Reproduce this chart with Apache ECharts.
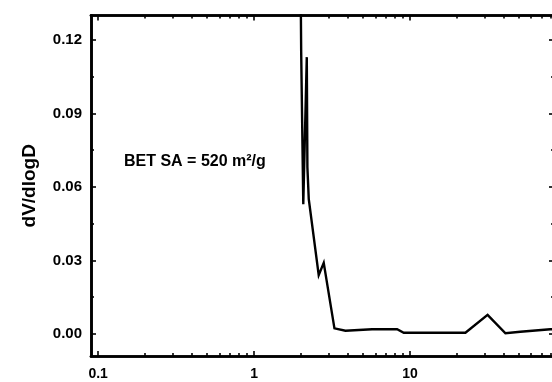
<!DOCTYPE html>
<html>
<head>
<meta charset="utf-8">
<script src="https://cdn.jsdelivr.net/npm/echarts@6/dist/echarts.min.js"></script>
<style>
html,body{margin:0;padding:0;background:#fff;}
#c{width:552px;height:382px;}
</style>
</head>
<body>
<div id="c"></div>
<script>
// Pore diameter (nm) and dV/dlogD values
var diameterNm = [1.981, 2.007, 2.07, 2.18, 2.20, 2.245, 2.60, 2.80, 3.28, 3.86, 5.72, 8.28, 9.13, 22.7, 31.5, 41.0, 51.1, 79.6, 90];
var dvdlogd    = [0.16, 0.115, 0.053, 0.113, 0.068, 0.055, 0.024, 0.029, 0.0023, 0.0013, 0.0019, 0.0019, 0.0005, 0.0005, 0.0078, 0.0003, 0.0009, 0.0019, 0.0021];

var xMajorTicks = [0.1, 1, 10];
var xMinorTicks = [0.2, 0.3, 0.4, 0.5, 0.6, 0.7, 0.8, 0.9, 2, 3, 4, 5, 6, 7, 8, 9, 20, 30, 40, 50, 60, 70, 80];
var yMajorTicks = [0, 0.03, 0.06, 0.09, 0.12];
var yMinorTicks = [0.015, 0.045, 0.075, 0.105];

var annotationText = 'BET SA = 520 m\u00B2/g';
var yTitle = 'dV/dlogD';

var X_MIN = 0.09, X_MAX = 84;
var Y_MIN = -0.009, Y_MAX = 0.130;
var FONT = '"Liberation Sans", Arial, sans-serif';

var seriesData = diameterNm.map(function (d, i) { return [d, dvdlogd[i]]; });

function xAxisDef(pos, ticks, len, showLabels) {
  return {
    type: 'log', logBase: 10, min: X_MIN, max: X_MAX, position: pos,
    axisLine: { show: true, onZero: false, lineStyle: { color: '#000', width: 2.6 } },
    axisTick: { show: true, inside: true, length: len, customValues: ticks, lineStyle: { color: '#000', width: 1.6 } },
    axisLabel: showLabels ? {
      show: true, customValues: ticks, margin: 11, color: '#000',
      fontFamily: FONT, fontSize: 14, fontWeight: 'bold',
      formatter: function (v) { return String(+v.toPrecision(6)); }
    } : { show: false },
    splitLine: { show: false }, minorTick: { show: false }, minorSplitLine: { show: false }
  };
}
function yAxisDef(pos, ticks, len, showLabels, withName) {
  var a = {
    type: 'value', min: Y_MIN, max: Y_MAX, position: pos,
    axisLine: { show: true, onZero: false, lineStyle: { color: '#000', width: 2.6 } },
    axisTick: { show: true, inside: true, length: len, customValues: ticks, lineStyle: { color: '#000', width: 1.6 } },
    axisLabel: showLabels ? {
      show: true, customValues: ticks, margin: 9, color: '#000',
      fontFamily: FONT, fontSize: 15, fontWeight: 'bold',
      formatter: function (v) { return v.toFixed(2); }
    } : { show: false },
    splitLine: { show: false }
  };
  if (withName) {
    a.name = yTitle;
    a.nameLocation = 'middle';
    a.nameGap = 52;
    a.nameTextStyle = { color: '#000', fontFamily: FONT, fontSize: 19, fontWeight: 'bold' };
  }
  return a;
}

var chart = echarts.init(document.getElementById('c'), null, { renderer: 'canvas' });
chart.setOption({
  animation: false,
  backgroundColor: '#fff',
  grid: { left: 91, right: -2, top: 15.5, bottom: 26, containLabel: false, outerBoundsMode: 'none' },
  xAxis: [
    xAxisDef('bottom', xMajorTicks, 5, true),
    xAxisDef('bottom', xMinorTicks, 3, false),
    xAxisDef('top', xMajorTicks, 5, false),
    xAxisDef('top', xMinorTicks, 3, false)
  ],
  yAxis: [
    yAxisDef('left', yMajorTicks, 5, true, true),
    yAxisDef('left', yMinorTicks, 3, false, false),
    yAxisDef('right', yMajorTicks, 5, false, false),
    yAxisDef('right', yMinorTicks, 3, false, false)
  ],
  graphic: [{
    type: 'text', left: 124, top: 154,
    style: { text: annotationText, fill: '#000', font: 'bold 16px ' + FONT }
  }],
  series: [{
    type: 'line', xAxisIndex: 0, yAxisIndex: 0,
    data: seriesData, showSymbol: false, symbol: 'none', clip: true,
    lineStyle: { color: '#000', width: 2.4, join: 'miter' }
  }]
});
</script>
</body>
</html>
